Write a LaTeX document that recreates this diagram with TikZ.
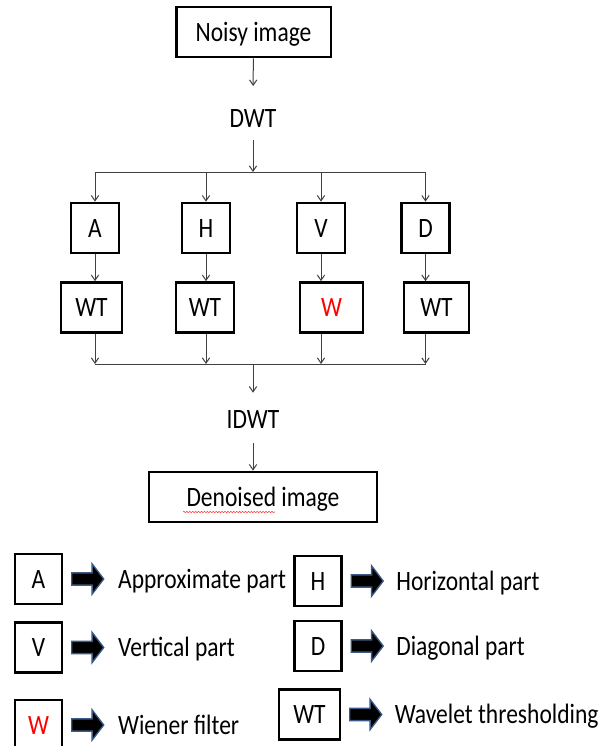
\documentclass[tikz,border=0pt]{standalone}
\usepackage{fontspec}
\setmainfont{Carlito}[FakeStretch=0.84]
\usetikzlibrary{arrows.meta,positioning,shapes.arrows,decorations.pathmorphing}
\definecolor{arrowedge}{HTML}{3B5A85}
\definecolor{lineclr}{HTML}{404040}

\begin{document}
\begin{tikzpicture}[
  x=0.75pt, y=-0.75pt,
  font=\fontsize{21}{25}\selectfont,
  box/.style={draw, line width=2pt, inner sep=0pt, minimum height=37.5pt, text height=13.5pt, text depth=0pt},
  keybox/.style={draw, line width=1.6pt, inner sep=0pt, minimum width=35.25pt, minimum height=37.5pt, text height=13.5pt, text depth=0pt},
  lbl/.style={inner sep=0pt, text height=13.5pt, text depth=0pt},
  arr/.style={-{Straight Barb[length=4pt,width=5.5pt]}, draw=lineclr, line width=0.75pt},
  bus/.style={draw=lineclr, line width=0.75pt},
  fatarr/.style={single arrow, draw=arrowedge, fill=black, line width=1pt, inner xsep=0pt, inner ysep=4.1pt, minimum height=24pt, single arrow head extend=6.75pt, single arrow tip angle=105}
]
\useasboundingbox (0,0) rectangle (616,746);

% decomposition
\node[box, minimum width=116pt] (noisy) at (253.5,32) {Noisy image};
\node[lbl] (dwt) at (253,118) {DWT};
\coordinate (split) at (253,172);
\draw[arr, shorten >=17pt] (noisy) -- (dwt.north);
\draw[arr, shorten <=9.75pt] (dwt.south) -- (split);

\node[box, minimum width=36pt] (A) at (95,228) {A};
\node[box, minimum width=36pt] (H) at (206,228) {H};
\node[box, minimum width=36pt] (V) at (321,228) {V};
\node[box, minimum width=36pt] (D) at (425.5,228) {D};
\draw[bus] (A |- split) -- (D |- split);
\draw[arr] (A |- split) -- (A);
\draw[arr] (H |- split) -- (H);
\draw[arr] (V |- split) -- (V);
\draw[arr] (D |- split) -- (D);

% filtering of each sub-band
\node[box, minimum width=45.75pt] (wtA) at (91.5,307.5) {WT};
\node[box, minimum width=43.5pt] (wtH) at (205,307.5) {WT};
\node[box, minimum width=47.25pt, text=red] (wV) at (331.5,307.5) {W};
\node[box, minimum width=48.75pt] (wtD) at (436.5,307.5) {WT};
\draw[arr] (A) -- (A |- wtA.north);
\draw[arr] (H) -- (H |- wtH.north);
\draw[arr] (V) -- (V |- wV.north);
\draw[arr] (D) -- (D |- wtD.north);

% reconstruction
\coordinate (merge) at (253,364);
\draw[arr] (A |- wtA.south) -- (A |- merge);
\draw[arr] (H |- wtH.south) -- (H |- merge);
\draw[arr] (V |- wV.south) -- (V |- merge);
\draw[arr] (D |- wtD.south) -- (D |- merge);
\draw[bus] (A |- merge) -- (D |- merge);

\node[lbl] (idwt) at (253,419) {IDWT};
\draw[arr, shorten >=12.75pt] (merge) -- (idwt.north);
\node[box, minimum width=171pt] (denoised) at (263,497) {Denoised image};
\draw[arr, shorten <=11.25pt] (idwt.south) -- (idwt.south |- denoised.north);
\draw[red!75, line width=0.4pt, decorate, decoration={snake, amplitude=0.6pt, segment length=2.2pt}] (183,512) -- (275,512);

% legend
\node[keybox] (keyA) at (38.5,579) {A};
\node[fatarr, right=6pt of keyA] (arrA) {};
\node[lbl, right=10pt of arrA] (txtA) {Approximate part};
\node[keybox] (keyH) at (318,581) {H};
\node[fatarr, right=6pt of keyH] (arrH) {};
\node[lbl, right=9pt of arrH] (txtH) {Horizontal part};

\node[keybox] (keyV) at (38.5,647.5) {V};
\node[fatarr, right=6pt of keyV] (arrV) {};
\node[lbl, right=10pt of arrV] (txtV) {Vertical part};
\node[keybox] (keyD) at (318,646) {D};
\node[fatarr, right=6pt of keyD] (arrD) {};
\node[lbl, right=9pt of arrD] (txtD) {Diagonal part};

\node[keybox, text=red] (keyW) at (38.5,725) {W};
\node[fatarr, right=6pt of keyW] (arrW) {};
\node[lbl, right=10pt of arrW] (txtW) {Wiener filter};
\node[keybox, minimum width=45.75pt] (keyWT) at (309.5,714.5) {WT};
\node[fatarr, right=6pt of keyWT] (arrWT) {};
\node[lbl, right=9pt of arrWT] (txtWT) {Wavelet thresholding};

\end{tikzpicture}
\end{document}
